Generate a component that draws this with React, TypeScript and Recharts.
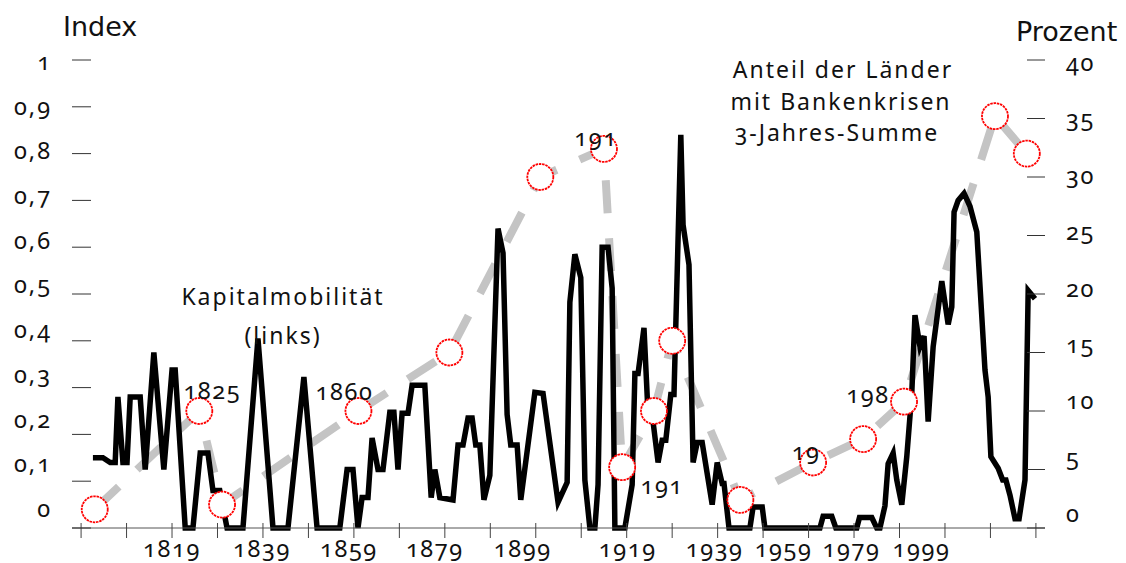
import React from 'react'
import { LineChart, Line, XAxis, YAxis, LabelList } from 'recharts'

// Anteil der Länder mit Bankenkrisen, 3-Jahres-Summe (Prozent, rechte Achse)
const crisisYears = [
  1801.6, 1803.8, 1805.4, 1806.5, 1807.1, 1808.2, 1809.1, 1809.8, 1812.0, 1813.1,
  1815.0, 1817.2, 1819.0, 1819.7, 1821.9, 1823.6, 1825.2, 1826.9, 1828.0, 1829.5,
  1831.1, 1834.6, 1837.9, 1841.2, 1844.5, 1848.0, 1850.9, 1855.9, 1857.5, 1858.8,
  1859.9, 1860.8, 1862.1, 1863.0, 1864.3, 1865.4, 1866.9, 1867.8, 1868.7, 1869.6,
  1870.9, 1871.8, 1874.6, 1876.0, 1876.8, 1877.9, 1880.8, 1881.9, 1883.0, 1884.1,
  1885.0, 1885.8, 1886.7, 1887.6, 1888.9, 1890.7, 1891.8, 1892.7, 1893.5, 1894.9,
  1895.7, 1898.8, 1900.6, 1903.9, 1905.9, 1906.5, 1907.6, 1908.9, 1909.8, 1910.9,
  1912.0, 1912.7, 1913.6, 1914.9, 1915.8, 1916.4, 1918.6, 1920.2, 1920.8, 1921.5,
  1922.8, 1923.7, 1924.6, 1925.9, 1926.8, 1927.6, 1928.7, 1929.4, 1930.9, 1931.4,
  1932.7, 1933.6, 1934.5, 1935.6, 1937.8, 1938.9, 1940.0, 1940.4, 1941.5, 1946.1,
  1946.8, 1948.8, 1949.4, 1961.5, 1962.2, 1964.1, 1965.0, 1969.6, 1970.2, 1972.9,
  1974.0, 1974.7, 1975.8, 1976.5, 1977.6, 1978.4, 1979.5, 1980.6, 1981.7, 1982.4,
  1983.5, 1984.4, 1985.3, 1986.4, 1988.3, 1989.7, 1990.5, 1991.0, 1991.9, 1993.2,
  1994.5, 1996.0, 1997.8, 1998.5, 1999.1, 2000.7, 2001.7, 2002.4, 2003.3, 2004.4,
  2005.3, 2006.6, 2007.3, 2008.8,
]
const crisisShare = [
  6.0, 6.0, 5.6, 5.6, 11.2, 5.6, 5.6, 11.2, 11.2, 5.0,
  15.0, 5.0, 13.5, 13.5, 0, 0, 6.4, 6.4, 3.2, 3.2,
  0, 0, 16.2, 0, 0, 12.9, 0, 0, 5.0, 5.0,
  0, 2.6, 2.6, 7.7, 5.0, 5.0, 9.9, 9.9, 5.0, 9.8,
  9.8, 12.2, 12.2, 2.6, 5.0, 2.6, 2.4, 7.1, 7.1, 9.4,
  9.4, 7.1, 7.1, 2.4, 4.5, 25.6, 23.5, 9.7, 7.1, 7.1,
  2.4, 11.6, 11.5, 2.2, 3.9, 19.3, 23.4, 21.4, 4.1, 0,
  0, 3.7, 24.0, 24.0, 20.5, 0, 0, 3.7, 13.2, 13.2,
  17.1, 9.7, 9.7, 5.6, 7.5, 7.5, 11.4, 11.4, 33.6, 25.9,
  22.5, 5.6, 7.3, 7.3, 2.0, 5.6, 3.8, 3.8, 0, 0,
  1.8, 1.8, 0, 0, 1.0, 1.0, 0, 0, 0.9, 0.9,
  0, 0, 1.9, 5.5, 6.4, 4.1, 2.0, 6.1, 11.5, 18.2,
  15.5, 16.4, 9.1, 15.5, 21.1, 17.4, 18.9, 27.0, 28.0, 28.6,
  27.5, 25.3, 13.5, 11.2, 6.1, 5.1, 4.1, 4.1, 2.8, 0.8,
  0.8, 4.1, 20.3, 19.6,
]

// Kapitalmobilität (Index, linke Achse)
const mobilityYears = [1802, 1825, 1830, 1860, 1880, 1900, 1914, 1918, 1925, 1929, 1944, 1960, 1971, 1980, 2000, 2007]
const mobilityIndex = [0.04, 0.25, 0.05, 0.25, 0.375, 0.75, 0.81, 0.13, 0.25, 0.4, 0.06, 0.14, 0.19, 0.27, 0.88, 0.8]
const mobilityLabels = ['', '1825', '', '1860', '', '', '191', '191', '', '', '', '19', '', '198', '', '']

const yearTicks = [1799, 1809, 1819, 1829, 1839, 1849, 1859, 1869, 1879, 1889, 1899, 1909, 1919, 1929, 1939, 1949, 1959, 1969, 1979, 1989, 1999, 2009]
const yearTickLabels = [1819, 1839, 1859, 1879, 1899, 1919, 1939, 1959, 1979, 1999]
const indexTicks = [0, 0.1, 0.2, 0.3, 0.4, 0.5, 0.6, 0.7, 0.8, 0.9, 1]
const percentTicks = [0, 5, 10, 15, 20, 25, 30, 35, 40]

const crisisData = crisisYears.map((year, i) => ({ year, share: crisisShare[i] }))
const mobilityData = mobilityYears.map((year, i) => ({ year, index: mobilityIndex[i], label: mobilityLabels[i] }))

const numFont = "'Noto Sans', 'Open Sans', sans-serif"
const numStyle = { fontVariantNumeric: 'oldstyle-nums', fontFeatureSettings: '"onum" 1' } as React.CSSProperties
const numSize = 23.5

// the year labels in the original sit a little off their tick marks
const yearLabelShift: Record<number, number> = {
  1819: 0, 1839: -1, 1859: -5, 1879: -10, 1899: -13, 1919: 1, 1939: -3, 1959: -25, 1979: -48, 1999: -69,
}

// where each data label sits relative to its circle
const pointLabelShift: Record<number, [number, number]> = {
  1825: [13, -20], 1860: [-14, -19], 1914: [-8, -11], 1918: [40, 19], 1960: [-7, -10], 1980: [-36, -7],
}

function YearTick(props: any) {
  const { x, y, payload } = props
  const v = payload.value
  const hasLabel = yearTickLabels.includes(v)
  return (
    <g>
      <line x1={x} x2={x} y1={y - 5} y2={y + 10} stroke="#444" strokeWidth={1} />
      {hasLabel && (
        <text x={x + (yearLabelShift[v] || 0)} y={y + 29} textAnchor="middle" fontSize={numSize}
          fontFamily={numFont} letterSpacing={1.6} fill="#111" style={numStyle}>
          {v}
        </text>
      )}
    </g>
  )
}

function LeftTick(props: any) {
  const { x, y, payload } = props
  const v = payload.value
  const label = v === 0 ? '0' : v === 1 ? '1' : v.toFixed(1).replace('.', ',')
  const ly = y - (y - 60) * 0.045 + 3
  return (
    <g>
      <line x1={x} x2={x + 19} y1={y} y2={y} stroke="#333" strokeWidth={1} />
      <text x={x - 20} y={ly + 7} textAnchor="end" fontSize={numSize} fontFamily={numFont}
        letterSpacing={2} fill="#111" style={numStyle}>
        {label}
      </text>
    </g>
  )
}

function RightTick(props: any) {
  const { x, y, payload } = props
  const ly = y + 4 - (y - 60) * 0.036
  return (
    <g>
      <line x1={x - 18} x2={x} y1={y} y2={y} stroke="#333" strokeWidth={1} />
      <text x={x + 21} y={ly + 7} textAnchor="start" fontSize={numSize} fontFamily={numFont}
        letterSpacing={1.6} fill="#111" style={numStyle}>
        {payload.value}
      </text>
    </g>
  )
}

function PointLabel(props: any) {
  const { value, index } = props
  if (!value) return null
  const px = props.x ?? props.viewBox?.x
  const py = props.y ?? props.viewBox?.y
  const year = mobilityYears[index]
  const [dx, dy] = pointLabelShift[year] || [0, -20]
  return (
    <text x={px + dx} y={py + dy + 8} textAnchor="middle" fontSize={numSize} fontFamily={numFont}
      letterSpacing={1.6} fill="#111" style={numStyle}>
      {value}
    </text>
  )
}

function RingDot(props: any) {
  const { cx, cy, index } = props
  return (
    <circle key={`ring-${index}`} cx={cx} cy={cy} r={13} fill="#fff" stroke="#ff0000"
      strokeWidth={1.8} strokeDasharray="2.5 0.8" />
  )
}

export default function App() {
  const textFont = "'Noto Sans', 'Open Sans', sans-serif"
  return (
    <div style={{ position: 'absolute', left: 0, top: 0, width: 1126, height: 563, background: '#fff' }}>
      <LineChart width={1126} height={563} margin={{ top: 60, right: 21, bottom: 0, left: 12 }}>
        <XAxis
          dataKey="year"
          type="number"
          domain={[1797, 2011]}
          ticks={yearTicks}
          interval={0}
          height={35}
          tickSize={0}
          tickMargin={0}
          tickLine={false}
          axisLine={{ stroke: '#555', strokeWidth: 1 }}
          tick={(p: any) => <YearTick {...p} />}
        />
        <YAxis
          yAxisId="left"
          orientation="left"
          width={60}
          domain={[0, 1]}
          ticks={indexTicks}
          interval={0}
          axisLine={false}
          tickLine={false}
          tickSize={0}
          tickMargin={0}
          tick={(p: any) => <LeftTick {...p} />}
        />
        <YAxis
          yAxisId="right"
          orientation="right"
          width={60}
          domain={[0, 40]}
          ticks={percentTicks}
          interval={0}
          axisLine={false}
          tickLine={false}
          tickSize={0}
          tickMargin={0}
          tick={(p: any) => <RightTick {...p} />}
        />
        <Line
          yAxisId="left"
          data={mobilityData}
          dataKey="index"
          type="linear"
          stroke="#c4c4c4"
          strokeWidth={8}
          strokeDasharray="33 25"
          strokeLinecap="butt"
          dot={(p: any) => <RingDot {...p} />}
          activeDot={false}
          isAnimationActive={false}
        >
          <LabelList dataKey="label" content={(p: any) => <PointLabel {...p} />} />
        </Line>
        <Line
          yAxisId="right"
          data={crisisData}
          dataKey="share"
          type="linear"
          stroke="#000"
          strokeWidth={5.5}
          dot={false}
          activeDot={false}
          isAnimationActive={false}
        />
      </LineChart>
      <svg width={1126} height={563} style={{ position: 'absolute', left: 0, top: 0, pointerEvents: 'none' }}>
        <text x={63} y={36} fontSize={27} fontFamily="'DejaVu Sans', sans-serif" fill="#111">Index</text>
        <text x={1016} y={41} fontSize={27} fontFamily="'DejaVu Sans', sans-serif" fill="#111">Prozent</text>
        <g fontFamily={textFont} fontSize={23} fill="#111" letterSpacing={2} textAnchor="middle" style={numStyle}>
          <text x={283} y={305}>Kapitalmobilität</text>
          <text x={283} y={344}>(links)</text>
          <text x={843} y={78}>Anteil der Länder</text>
          <text x={841} y={110}>mit Bankenkrisen</text>
          <text x={837} y={141}>3-Jahres-Summe</text>
        </g>
      </svg>
    </div>
  )
}
